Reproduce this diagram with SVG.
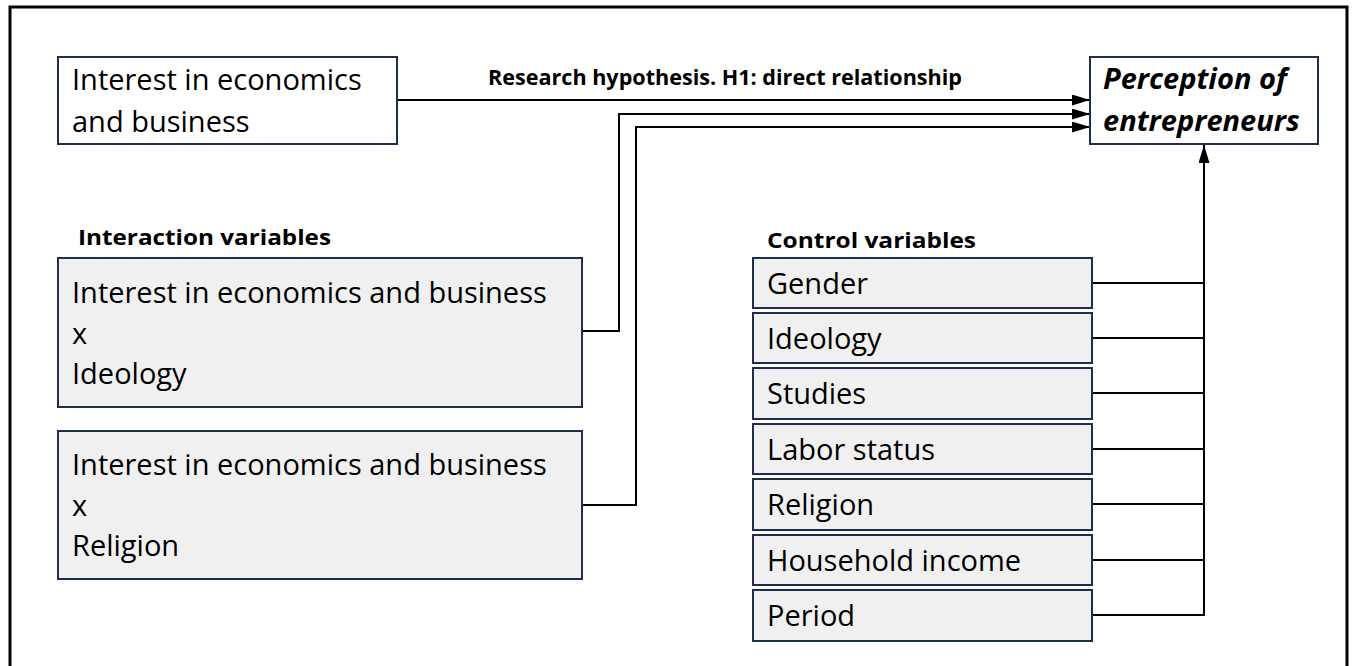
<svg xmlns="http://www.w3.org/2000/svg" width="1356" height="666" viewBox="0 0 1356 666">
  <style>
    .frame { fill: none; stroke: #000; stroke-width: 3; }
    .box { fill: #ffffff; stroke: #1f2d4f; stroke-width: 2; }
    .gbox { fill: #f0f0f0; stroke: #1f2d4f; stroke-width: 2; }
    .txt { font-family: "Open Sans", "Noto Sans", sans-serif; font-size: 29px; fill: #000; }
    .head { font-family: "Open Sans", "Noto Sans", sans-serif; font-size: 22px; font-weight: bold; fill: #000; }
    .outcome { font-family: "Open Sans", "Noto Sans", sans-serif; font-size: 29px; font-weight: bold; font-style: italic; fill: #000; }
    .link { fill: none; stroke: #000; stroke-width: 2; }
  </style>
  <defs>
    <marker id="arrow" viewBox="0 0 18 11" refX="18" refY="5.5" markerWidth="18" markerHeight="11" markerUnits="userSpaceOnUse" orient="auto">
      <path d="M0,0 L18,5.5 L0,11 Z" fill="#000"/>
    </marker>
  </defs>

  <rect width="1356" height="666" fill="#fff"/>
  <rect class="frame" x="10" y="7" width="1337" height="690"/>

  <!-- section headings -->
  <text class="head" x="488" y="85" textLength="474" lengthAdjust="spacingAndGlyphs">Research hypothesis. H1: direct relationship</text>
  <text class="head" x="78" y="245" textLength="253" lengthAdjust="spacingAndGlyphs">Interaction variables</text>
  <text class="head" x="767" y="248" textLength="209" lengthAdjust="spacingAndGlyphs">Control variables</text>

  <!-- connectors -->
  <g id="connectors">
    <path class="link" d="M397,100 H1090" marker-end="url(#arrow)"/>
    <path class="link" d="M582,331 H619 V114 H1090" marker-end="url(#arrow)"/>
    <path class="link" d="M582,505 H636 V127 H1090" marker-end="url(#arrow)"/>
    <path class="link" d="M1092,283 H1204"/>
    <path class="link" d="M1092,338 H1204"/>
    <path class="link" d="M1092,393 H1204"/>
    <path class="link" d="M1092,449 H1204"/>
    <path class="link" d="M1092,504 H1204"/>
    <path class="link" d="M1092,560 H1204"/>
    <path class="link" d="M1092,615 H1204 V145" marker-end="url(#arrow)"/>
  </g>

  <!-- independent variable -->
  <g id="interest">
    <rect class="box" x="58" y="57" width="339" height="87"/>
    <text class="txt" x="72" y="90">Interest in economics</text>
    <text class="txt" x="72" y="132">and business</text>
  </g>

  <!-- dependent variable -->
  <g id="perception">
    <rect class="box" x="1090" y="57" width="228" height="87"/>
    <text class="outcome" x="1103" y="89">Perception of</text>
    <text class="outcome" x="1103" y="131">entrepreneurs</text>
  </g>

  <!-- interaction terms -->
  <g id="interaction-ideology">
    <rect class="gbox" x="58" y="258" width="524" height="149"/>
    <text class="txt" x="72" y="303">Interest in economics and business</text>
    <text class="txt" x="72" y="344">x</text>
    <text class="txt" x="72" y="384">Ideology</text>
  </g>
  <g id="interaction-religion">
    <rect class="gbox" x="58" y="431" width="524" height="148"/>
    <text class="txt" x="72" y="475">Interest in economics and business</text>
    <text class="txt" x="72" y="516">x</text>
    <text class="txt" x="72" y="556">Religion</text>
  </g>

  <!-- control variables -->
  <g id="control-gender">
    <rect class="gbox" x="753" y="258" width="339" height="50"/>
    <text class="txt" x="767" y="294">Gender</text>
  </g>
  <g id="control-ideology">
    <rect class="gbox" x="753" y="313" width="339" height="50"/>
    <text class="txt" x="767" y="349">Ideology</text>
  </g>
  <g id="control-studies">
    <rect class="gbox" x="753" y="368" width="339" height="51"/>
    <text class="txt" x="767" y="404">Studies</text>
  </g>
  <g id="control-labor">
    <rect class="gbox" x="753" y="424" width="339" height="50"/>
    <text class="txt" x="767" y="460">Labor status</text>
  </g>
  <g id="control-religion">
    <rect class="gbox" x="753" y="479" width="339" height="51"/>
    <text class="txt" x="767" y="515">Religion</text>
  </g>
  <g id="control-income">
    <rect class="gbox" x="753" y="535" width="339" height="50"/>
    <text class="txt" x="767" y="571">Household income</text>
  </g>
  <g id="control-period">
    <rect class="gbox" x="753" y="590" width="339" height="51"/>
    <text class="txt" x="767" y="626">Period</text>
  </g>
</svg>
